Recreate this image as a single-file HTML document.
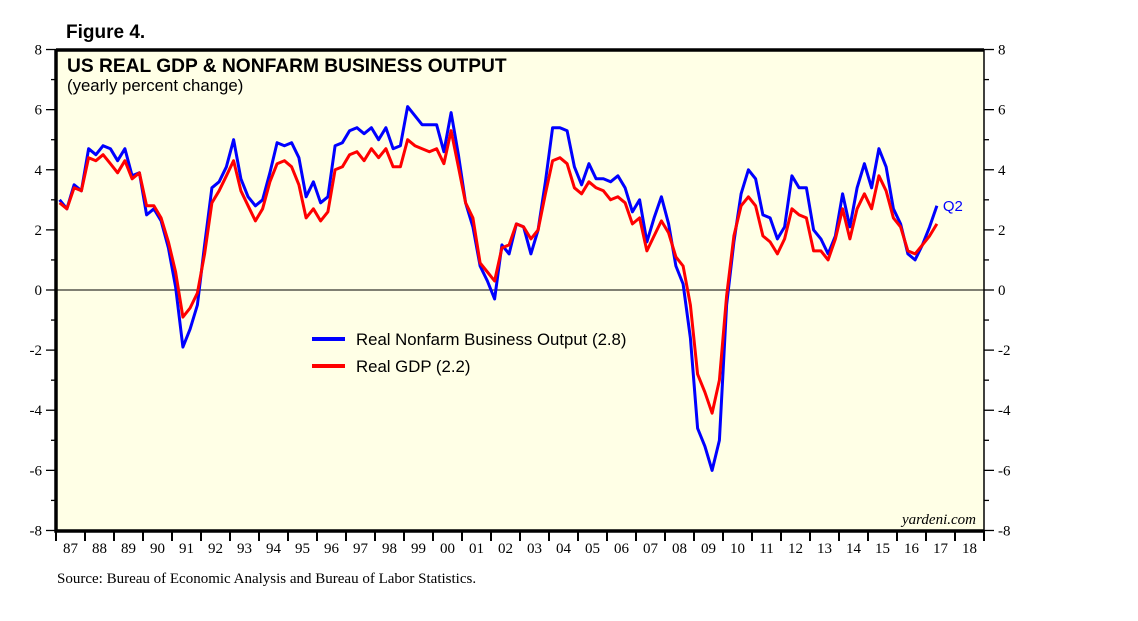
<!DOCTYPE html>
<html><head><meta charset="utf-8"><style>
body{margin:0;background:#fff;width:1138px;height:621px;overflow:hidden}
svg{display:block}
.s{font-family:"Liberation Serif",serif;font-size:15px;fill:#000}
.a{font-family:"Liberation Sans",sans-serif}
</style></head><body>
<svg id="c" width="1138" height="621">
<text x="66" y="38" class="a" font-size="19" font-weight="bold">Figure 4.</text>
<rect x="56" y="50" width="928" height="481" fill="#ffffe6"/>
<g id="grid"></g>
<g id="series"></g>
<path d="M56 50V531H984M56 50H984" fill="none" stroke="#000" stroke-width="3.5"/>
<line x1="984" y1="50" x2="984" y2="531" stroke="#000" stroke-width="1.5"/>
<text x="67" y="72" class="a" font-size="19.2" font-weight="bold">US REAL GDP &amp; NONFARM BUSINESS OUTPUT</text>
<text x="67" y="91" class="a" font-size="16.8">(yearly percent change)</text>
<line x1="312" y1="339" x2="345" y2="339" stroke="#0000ff" stroke-width="4"/>
<text x="356" y="345" class="a" font-size="16.8">Real Nonfarm Business Output (2.8)</text>
<line x1="312" y1="366" x2="345" y2="366" stroke="#ff0000" stroke-width="4"/>
<text x="356" y="372" class="a" font-size="16.8">Real GDP (2.2)</text>
<text x="976" y="524" class="s" font-style="italic" font-size="15" text-anchor="end">yardeni.com</text>
<text x="57" y="583" class="s" font-size="14.3">Source: Bureau of Economic Analysis and Bureau of Labor Statistics.</text>
</svg>
<script>
const yTicks=[8,6,4,2,0,-2,-4,-6,-8];
const years=[];for(let y=1987;y<=2018;y++)years.push(y);
const blue=[3.0,2.7,3.5,3.3, 4.7,4.5,4.8,4.7, 4.3,4.7,3.8,3.9, 2.5,2.7,2.3,1.4, 0.1,-1.9,-1.3,-0.5,
1.5,3.4,3.6,4.1, 5.0,3.7,3.1,2.8, 3.0,3.9,4.9,4.8, 4.9,4.4,3.1,3.6, 2.9,3.1,4.8,4.9,
5.3,5.4,5.2,5.4, 5.0,5.4,4.7,4.8, 6.1,5.8,5.5,5.5, 5.5,4.6,5.9,4.5, 2.9,2.1,0.8,0.3,
-0.3,1.5,1.2,2.2, 2.1,1.2,2.0,3.6, 5.4,5.4,5.3,4.1, 3.5,4.2,3.7,3.7, 3.6,3.8,3.4,2.6,
3.0,1.6,2.4,3.1, 2.2,0.8,0.2,-1.6, -4.6,-5.2,-6.0,-5.0, -0.5,1.6,3.2,4.0, 3.7,2.5,2.4,1.7,
2.1,3.8,3.4,3.4, 2.0,1.7,1.2,1.8, 3.2,2.1,3.4,4.2, 3.4,4.7,4.1,2.7, 2.2,1.2,1.0,1.5, 2.1,2.8];
const red=[2.9,2.7,3.4,3.3, 4.4,4.3,4.5,4.2, 3.9,4.3,3.7,3.9, 2.8,2.8,2.4,1.6, 0.6,-0.9,-0.6,-0.1,
1.2,2.9,3.3,3.8, 4.3,3.3,2.8,2.3, 2.7,3.6,4.2,4.3, 4.1,3.5,2.4,2.7, 2.3,2.6,4.0,4.1,
4.5,4.6,4.3,4.7, 4.4,4.7,4.1,4.1, 5.0,4.8,4.7,4.6, 4.7,4.2,5.3,4.1, 2.9,2.4,0.9,0.6,
0.3,1.4,1.5,2.2, 2.1,1.7,2.0,3.2, 4.3,4.4,4.2,3.4, 3.2,3.6,3.4,3.3, 3.0,3.1,2.9,2.2,
2.4,1.3,1.8,2.3, 1.9,1.1,0.8,-0.5, -2.8,-3.4,-4.1,-3.0, -0.2,1.8,2.8,3.1, 2.8,1.8,1.6,1.2,
1.7,2.7,2.5,2.4, 1.3,1.3,1.0,1.7, 2.7,1.7,2.7,3.2, 2.7,3.8,3.3,2.4, 2.1,1.3,1.2,1.5, 1.8,2.2];
const NS='http://www.w3.org/2000/svg';
const X=t=>56+(t-1987)*(928/32);
const Y=v=>290-v*30.06;
function mk(tag,at,parent){const e=document.createElementNS(NS,tag);for(const k in at)e.setAttribute(k,at[k]);parent.appendChild(e);return e;}
const svg=document.getElementById('c'),grid=document.getElementById('grid'),ser=document.getElementById('series');
mk('line',{x1:56,x2:984,y1:Y(0),y2:Y(0),stroke:'#000','stroke-width':1},grid);
yTicks.forEach(v=>{
 const l=mk('line',{x1:46,x2:56,y1:Y(v),y2:Y(v),stroke:'#000','stroke-width':1.3},svg);
 
 const r=mk('line',{x1:984,x2:994,y1:Y(v),y2:Y(v),stroke:'#000','stroke-width':1.3},svg);
 
 const t=mk('text',{x:42,y:Y(v)+5,'text-anchor':'end',class:'s'},svg);t.textContent=v;
 
 const t2=mk('text',{x:998,y:Y(v)+5,class:'s'},svg);t2.textContent=v;
 
 if(v>-8){const m=v-1;
  const a=mk('line',{x1:51,x2:56,y1:Y(m),y2:Y(m),stroke:'#000','stroke-width':1.3},svg);
  const b=mk('line',{x1:984,x2:989,y1:Y(m),y2:Y(m),stroke:'#000','stroke-width':1.3},svg);}
});
years.forEach(y=>{
 const l=mk('line',{x1:X(y),x2:X(y),y1:531,y2:541,stroke:'#000','stroke-width':2},svg);
 
 const t=mk('text',{x:X(y+0.5),y:553,'text-anchor':'middle',class:'s'},svg);t.textContent=String(y).slice(2);
 
});
mk('line',{x1:X(2019),x2:X(2019),y1:531,y2:541,stroke:'#000','stroke-width':2},svg);
function path(arr,col,name){
 const d=arr.map((v,i)=>(i?'L':'M')+X(1987+(i+0.5)/4).toFixed(1)+' '+Y(v).toFixed(1)).join('');
 const p=mk('path',{d:d,fill:'none',stroke:col,'stroke-width':3,'stroke-linejoin':'round'},ser);
 
 
}
path(blue,'#0000ff','nonfarm-output-line');
path(red,'#ff0000','real-gdp-line');
const n=blue.length-1;
const q=mk('text',{x:X(1987+(n+0.5)/4)+6,y:Y(blue[n])+5,fill:'#0000ff',class:'a','font-size':15},svg);
q.textContent='Q2';


</script>
</body></html>
